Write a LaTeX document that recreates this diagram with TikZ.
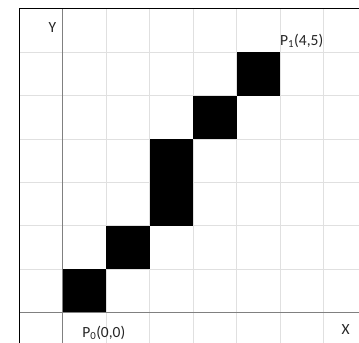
\documentclass[tikz,border=0pt]{standalone}
\usepackage{fontspec}
\setmainfont{Carlito}
\begin{document}
\begin{tikzpicture}[x=43.5pt,y=43.4pt,
  gridline/.style={draw=black!12,line width=0.8pt},
  axisline/.style={draw=black!50,line width=1.3pt},
  frameline/.style={draw=black,line width=1pt},
  pixel/.style={fill=black},
  lbl/.style={font=\fontsize{15.5}{18}\selectfont,text=black!85,inner sep=0pt}]
\useasboundingbox (-1.437,-0.698) rectangle (6.816,7.205);
\fill[white] (-1.437,-0.698) rectangle (6.816,7.205);
% grid
\foreach \i in {0,...,6} \draw[gridline] (\i,-0.698) -- (\i,7);
\foreach \j in {1,...,6} \draw[gridline] (-1,\j) -- (6.816,\j);
% pixels
\foreach \a/\b in {0/0,1/1,2/2,2/3,3/4,4/5}
  \fill[pixel] (\a,\b) rectangle ++(1,1);
% axes
\coordinate (xl) at (-1,0);
\coordinate (xr) at (6.816,0);
\coordinate (yb) at (0,-0.698);
\coordinate (yt) at (0,7);
\draw[axisline] (xl) -- (xr);
\draw[axisline] (yb) -- (yt);
% frame
\coordinate (fb) at (-1,-0.698);
\coordinate (fc) at (-1,7);
\coordinate (fr) at (6.816,7);
\draw[frameline] (fb) -- (fc) -- (fr);
% labels
\node[lbl] (ylab) at (-0.23,6.56) {Y};
\node[lbl] (xlab) at (6.51,-0.38) {X};
\node[lbl,anchor=base west] (p1) at (5.0,6.15) {P\textsubscript{1}(4,5)};
\node[lbl,anchor=base west] (p0) at (0.45,-0.57) {P\textsubscript{0}(0,0)};
\end{tikzpicture}
\end{document}
